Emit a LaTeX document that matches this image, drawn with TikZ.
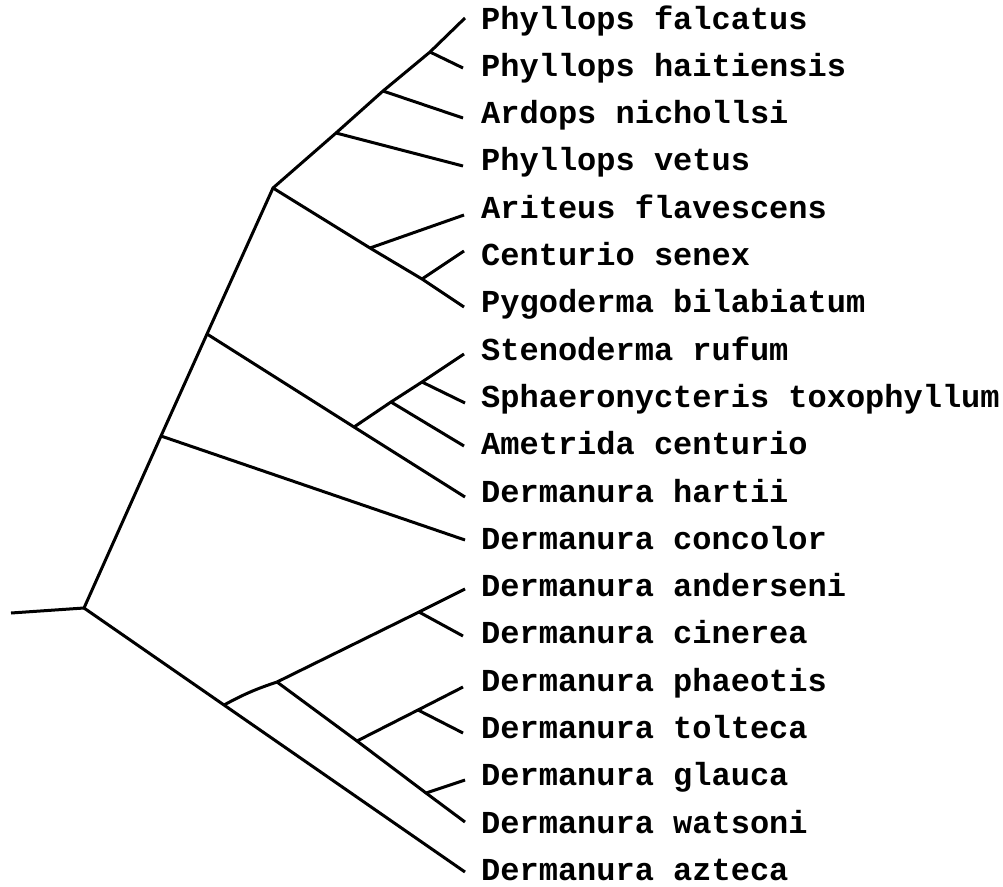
\documentclass[tikz,border=0pt]{standalone}
\usepackage{fontspec}
\newfontfamily\labelfont{Liberation Mono}
\begin{document}
\begin{tikzpicture}[x=1pt,y=-1pt,
  branch/.style={line width=3pt,line join=round,line cap=butt},
  taxon/.style={anchor=base west,inner sep=0pt,font=\labelfont\bfseries\fontsize{32}{32}\selectfont}]
\useasboundingbox (0,0) rectangle (1003,886);
% internal nodes
\coordinate (stub) at (11,613);
\coordinate (root) at (84,608);
\coordinate (nA) at (161,436);
\coordinate (nB) at (207,334);
\coordinate (nC) at (273,188);
\coordinate (nD) at (336,133);
\coordinate (nE) at (383,91);
\coordinate (nF) at (430,52);
\coordinate (nG) at (370,248);
\coordinate (nH) at (422,279);
\coordinate (nI) at (354,427);
\coordinate (nJ) at (391,402);
\coordinate (nK) at (422,382);
\coordinate (nL) at (224,705);
\coordinate (nM) at (277,682);
\coordinate (nN) at (419,612);
\coordinate (nO) at (357,741);
\coordinate (nP) at (426,793);
\coordinate (nQ) at (418,710);
% tips
\coordinate (t1) at (465,18);
\coordinate (t2) at (463,68);
\coordinate (t3) at (463,118);
\coordinate (t4) at (463,166);
\coordinate (t5) at (464,215);
\coordinate (t6) at (464,251);
\coordinate (t7) at (464,307);
\coordinate (t8) at (464,354);
\coordinate (t9) at (465,403);
\coordinate (t10) at (464,446);
\coordinate (t11) at (465,497);
\coordinate (t12) at (465,540);
\coordinate (t13) at (465,589);
\coordinate (t14) at (463,636);
\coordinate (t15) at (463,687);
\coordinate (t16) at (463,733);
\coordinate (t17) at (465,780);
\coordinate (t18) at (465,822);
\coordinate (t19) at (465,872);
% labels
\node[taxon] (l1) at (481,29) {Phyllops falcatus};
\node[taxon] (l2) at (481,76.3) {Phyllops haitiensis};
\node[taxon] (l3) at (481,123.6) {Ardops nichollsi};
\node[taxon] (l4) at (481,170.9) {Phyllops vetus};
\node[taxon] (l5) at (481,218.2) {Ariteus flavescens};
\node[taxon] (l6) at (481,265.5) {Centurio senex};
\node[taxon] (l7) at (481,312.8) {Pygoderma bilabiatum};
\node[taxon] (l8) at (481,360.1) {Stenoderma rufum};
\node[taxon] (l9) at (481,407.4) {Sphaeronycteris toxophyllum};
\node[taxon] (l10) at (481,454.7) {Ametrida centurio};
\node[taxon] (l11) at (481,502) {Dermanura hartii};
\node[taxon] (l12) at (481,549.3) {Dermanura concolor};
\node[taxon] (l13) at (481,596.6) {Dermanura anderseni};
\node[taxon] (l14) at (481,643.9) {Dermanura cinerea};
\node[taxon] (l15) at (481,691.2) {Dermanura phaeotis};
\node[taxon] (l16) at (481,738.5) {Dermanura tolteca};
\node[taxon] (l17) at (481,785.8) {Dermanura glauca};
\node[taxon] (l18) at (481,833.1) {Dermanura watsoni};
\node[taxon] (l19) at (481,880.4) {Dermanura azteca};
% branches
\draw[branch] (stub) -- (root) -- (nA) -- (nB) -- (nC) -- (nD) -- (nE) -- (nF) -- (t1);
\draw[branch] (nF) -- (t2);
\draw[branch] (nE) -- (t3);
\draw[branch] (nD) -- (t4);
\draw[branch] (nC) -- (nG) -- (nH) -- (t7);
\draw[branch] (nG) -- (t5);
\draw[branch] (nH) -- (t6);
\draw[branch] (nB) -- (nI) -- (t11);
\draw[branch] (nI) -- (nJ) -- (nK) -- (t8);
\draw[branch] (nK) -- (t9);
\draw[branch] (nJ) -- (t10);
\draw[branch] (nA) -- (t12);
\draw[branch] (root) -- (nL) -- (t19);
\draw[branch] (nL) to[bend left=5] (nM);
\draw[branch] (nM) -- (nN) -- (t13);
\draw[branch] (nN) -- (t14);
\draw[branch] (nM) -- (nO) -- (nP) -- (t18);
\draw[branch] (nO) -- (nQ) -- (t15);
\draw[branch] (nQ) -- (t16);
\draw[branch] (nP) -- (t17);
\end{tikzpicture}
\end{document}
